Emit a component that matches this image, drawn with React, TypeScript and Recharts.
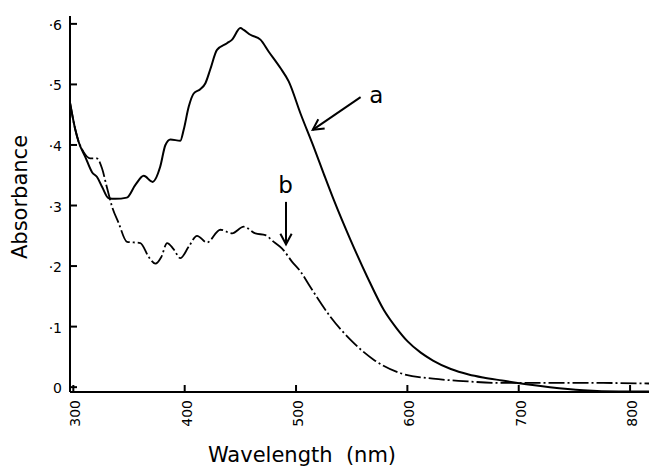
import React from "react";
import { LineChart, Line, XAxis, YAxis, ReferenceLine, ReferenceDot } from "recharts";

const wavelengthA = [297, 301.8, 304.8, 310.8, 316.8, 321.3, 326, 331.7, 337.7, 348, 355.7, 363.2, 371.2, 378, 382.7, 387.2, 396.1, 399.1, 403.6, 408.1, 414, 418.6, 423, 429, 438, 442.6, 450, 453, 459, 468, 475.5, 486, 493.4, 504, 516, 525, 534, 549, 564, 579, 590, 600, 612, 623, 639, 655, 668, 685, 699, 728, 758, 790, 817];
const absorbanceA = [0.47, 0.425, 0.405, 0.38, 0.355, 0.347, 0.33, 0.312, 0.311, 0.313, 0.334, 0.349, 0.339, 0.364, 0.4, 0.409, 0.407, 0.425, 0.463, 0.485, 0.492, 0.502, 0.525, 0.557, 0.568, 0.574, 0.593, 0.59, 0.582, 0.574, 0.554, 0.527, 0.505, 0.452, 0.396, 0.352, 0.309, 0.243, 0.182, 0.127, 0.098, 0.076, 0.057, 0.044, 0.03, 0.021, 0.016, 0.011, 0.007, 0.0, -0.005, -0.007, -0.007];

const wavelengthB = [297, 301.8, 304.8, 309, 315, 321, 325.8, 330, 334.8, 340.7, 348.2, 360.2, 367.7, 373.7, 379, 384.2, 390, 396.1, 403.6, 411.1, 420.1, 432, 442.6, 453, 463.5, 472.5, 480, 487.5, 496.5, 504, 513, 531, 549, 570, 594, 623, 650, 684, 728, 770, 817];
const absorbanceB = [0.47, 0.425, 0.405, 0.389, 0.378, 0.378, 0.361, 0.331, 0.298, 0.271, 0.24, 0.238, 0.215, 0.204, 0.215, 0.238, 0.228, 0.213, 0.232, 0.25, 0.239, 0.26, 0.254, 0.265, 0.254, 0.251, 0.24, 0.229, 0.207, 0.191, 0.165, 0.116, 0.078, 0.045, 0.023, 0.014, 0.01, 0.007, 0.007, 0.007, 0.006];

const xTicks = [300, 400, 500, 600, 700, 800];
const xTicksTop = [400, 500, 600, 700, 800];
const yTicks = [0, 0.1, 0.2, 0.3, 0.4, 0.5, 0.6];

const xDomain = [297, 817];
const yDomain = [-0.008, 0.613];

const arrowA = [{ x: 558, y: 0.479 }, { x: 515, y: 0.425 }];
const arrowB = [{ x: 491, y: 0.306 }, { x: 491, y: 0.236 }];
const labelA = { x: 572, y: 0.482, text: "a" };
const labelB = { x: 490.5, y: 0.334, text: "b" };

const dataA = wavelengthA.map((wl, i) => ({ wl, v: absorbanceA[i] }));
const dataB = wavelengthB.map((wl, i) => ({ wl, v: absorbanceB[i] }));

const FONT = "'DejaVu Sans', sans-serif";

const fmtY = (v: number) => (v === 0 ? "0" : "\u00b7" + Math.round(v * 10));

const BottomTick = (props: any) => {
  const { x, y, payload } = props;
  const ty = y + 8;
  const tx = x + 2;
  return (
    <g>
      <line x1={x} y1={y} x2={x} y2={y - 7} stroke="#000" strokeWidth={2} />
      <text
        x={tx}
        y={ty}
        transform={`rotate(-90 ${tx} ${ty})`}
        textAnchor="end"
        dominantBaseline="central"
        fontFamily={FONT}
        fontSize={14}
        fill="#000"
      >
        {payload.value}
      </text>
    </g>
  );
};

const TopTick = (props: any) => {
  const { x, y } = props;
  return <line x1={x} y1={y} x2={x} y2={y + 7} stroke="#000" strokeWidth={2} />;
};

const LeftTick = (props: any) => {
  const { x, y, payload } = props;
  return (
    <g>
      <line x1={x} y1={y} x2={x + 7} y2={y} stroke="#000" strokeWidth={2} />
      <text
        x={x - 8}
        y={y + 1}
        textAnchor="end"
        dominantBaseline="central"
        fontFamily={FONT}
        fontSize={14}
        fill="#000"
      >
        {fmtY(payload.value)}
      </text>
    </g>
  );
};

const RightTick = (props: any) => {
  const { x, y } = props;
  return <line x1={x} y1={y} x2={x - 7} y2={y} stroke="#000" strokeWidth={2} />;
};

const Arrow = (props: any) => {
  const { x1, y1, x2, y2 } = props;
  const dx = x2 - x1;
  const dy = y2 - y1;
  const len = Math.sqrt(dx * dx + dy * dy) || 1;
  const ux = dx / len;
  const uy = dy / len;
  const head = 12;
  const ang = (28 * Math.PI) / 180;
  const rot = (a: number) => ({
    x: x2 - head * (ux * Math.cos(a) - uy * Math.sin(a)),
    y: y2 - head * (ux * Math.sin(a) + uy * Math.cos(a)),
  });
  const p1 = rot(ang);
  const p2 = rot(-ang);
  return (
    <g>
      <line x1={x1} y1={y1} x2={x2} y2={y2} stroke="#000" strokeWidth={2} />
      <polyline
        points={`${p1.x},${p1.y} ${x2},${y2} ${p2.x},${p2.y}`}
        fill="none"
        stroke="#000"
        strokeWidth={2}
      />
    </g>
  );
};

const makeLetter = (text: string) => (props: any) => (
  <text
    x={props.cx}
    y={props.cy}
    textAnchor="middle"
    dominantBaseline="central"
    fontFamily={FONT}
    fontSize={23}
    fill="#000"
  >
    {text}
  </text>
);

const XTitle = (props: any) => {
  const { viewBox } = props;
  return (
    <text
      x={viewBox.x + 232}
      y={viewBox.y + 70}
      textAnchor="middle"
      fontFamily={FONT}
      fontSize={21}
      fill="#000"
    >
      {"Wavelength\u00a0\u00a0(nm)"}
    </text>
  );
};

const YTitle = (props: any) => {
  const { viewBox } = props;
  const cx = 20;
  const cy = viewBox.y + 181;
  return (
    <text
      x={cx}
      y={cy}
      transform={`rotate(-90 ${cx} ${cy})`}
      textAnchor="middle"
      dominantBaseline="central"
      fontFamily={FONT}
      fontSize={21}
      fill="#000"
    >
      Absorbance
    </text>
  );
};

export default function App() {
  return (
    <div style={{ position: "absolute", left: 0, top: 0, background: "#fff" }}>
      <LineChart width={650} height={467} margin={{ top: 16, right: 1, left: 0, bottom: 0 }}>
        <XAxis
          xAxisId={0}
          dataKey="wl"
          type="number"
          domain={xDomain}
          ticks={xTicks}
          allowDataOverflow
          height={75}
          tickSize={0}
          tickMargin={0}
          tickLine={false}
          tick={<BottomTick />}
          axisLine={{ stroke: "#000", strokeWidth: 2 }}
          label={<XTitle />}
        />
        <XAxis
          xAxisId="top"
          orientation="top"
          dataKey="wl"
          type="number"
          domain={xDomain}
          ticks={xTicksTop}
          allowDataOverflow
          height={0}
          tickSize={0}
          tickMargin={0}
          tickLine={false}
          tick={<TopTick />}
          axisLine={{ stroke: "#000", strokeWidth: 2 }}
        />
        <YAxis
          yAxisId={0}
          type="number"
          domain={yDomain}
          ticks={yTicks}
          allowDataOverflow
          width={70}
          tickSize={0}
          tickMargin={0}
          tickLine={false}
          tick={<LeftTick />}
          axisLine={{ stroke: "#000", strokeWidth: 2 }}
          label={<YTitle />}
        />
        <YAxis
          yAxisId="right"
          orientation="right"
          type="number"
          domain={yDomain}
          ticks={yTicks}
          allowDataOverflow
          width={0}
          tickSize={0}
          tickMargin={0}
          tickLine={false}
          tick={<RightTick />}
          axisLine={{ stroke: "#000", strokeWidth: 2 }}
        />
        <Line
          data={dataA}
          dataKey="v"
          type="monotone"
          stroke="#000"
          strokeWidth={2}
          dot={false}
          activeDot={false}
          isAnimationActive={false}
        />
        <Line
          data={dataB}
          dataKey="v"
          type="monotone"
          stroke="#000"
          strokeWidth={1.8}
          strokeDasharray="16 3 2 3"
          dot={false}
          activeDot={false}
          isAnimationActive={false}
        />
        <ReferenceLine segment={arrowA} shape={Arrow} ifOverflow="visible" />
        <ReferenceLine segment={arrowB} shape={Arrow} ifOverflow="visible" />
        <ReferenceDot x={labelA.x} y={labelA.y} r={0} shape={makeLetter(labelA.text)} ifOverflow="visible" />
        <ReferenceDot x={labelB.x} y={labelB.y} r={0} shape={makeLetter(labelB.text)} ifOverflow="visible" />
      </LineChart>
    </div>
  );
}
